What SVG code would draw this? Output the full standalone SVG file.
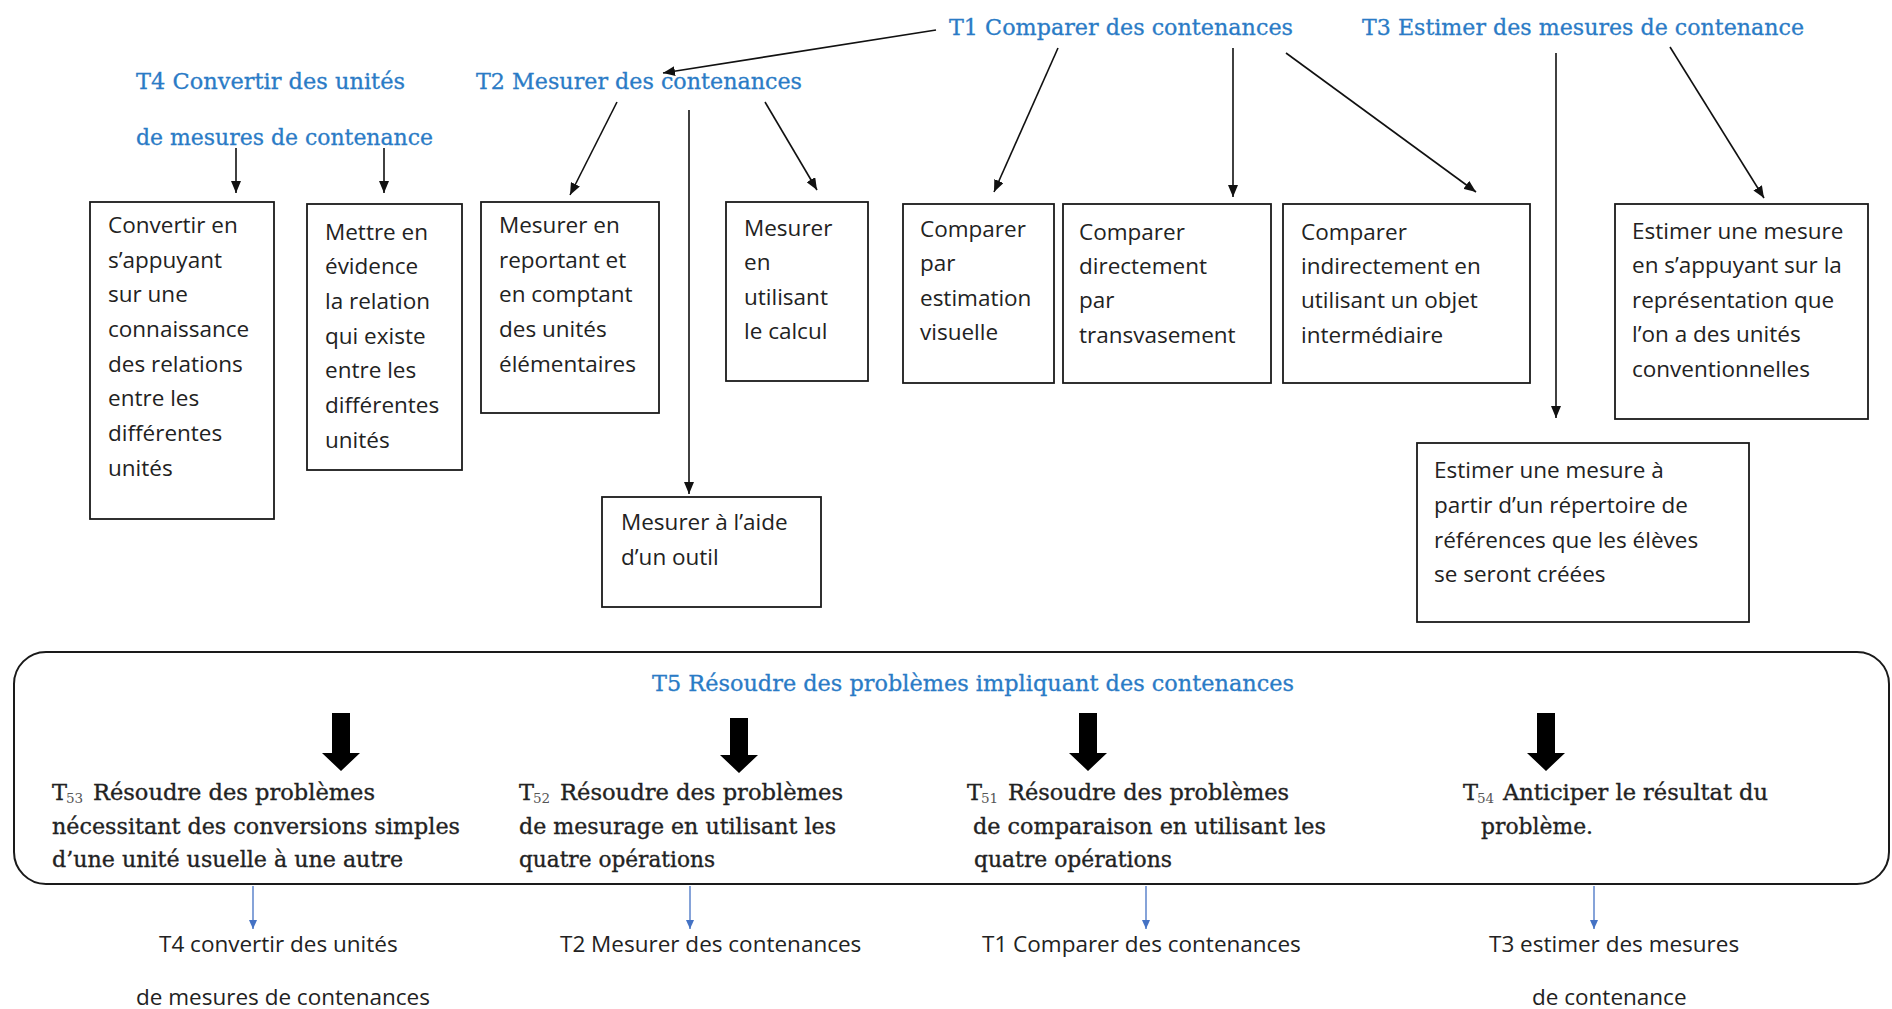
<svg xmlns="http://www.w3.org/2000/svg" width="1892" height="1009" viewBox="0 0 1892 1009">
<style>
.bg{fill:#ffffff}
.box{fill:#ffffff;stroke:#1a1a1a;stroke-width:1.8}
.frame{fill:none;stroke:#1a1a1a;stroke-width:2}
.t{font-family:"Open Sans","Noto Sans","Liberation Sans",sans-serif;font-size:22.5px;fill:#222222}
.ti{font-family:"DejaVu Serif","Liberation Serif",serif;font-size:22.5px;fill:#2a7bc6;stroke:#2a7bc6;stroke-width:0.3}
.s{font-family:"DejaVu Serif","Liberation Serif",serif;font-size:22.5px;fill:#222222;stroke:#222222;stroke-width:0.35}
.sub{font-family:"DejaVu Serif","Liberation Serif",serif;font-size:13.5px;fill:#555555}
.c{stroke:#111111;stroke-width:1.6;fill:none;marker-end:url(#ah)}
.cb{stroke:#4472c4;stroke-width:1.3;fill:none;marker-end:url(#ahb)}
.big{fill:#000000}
</style>
<defs>
<marker id="ah" markerWidth="12" markerHeight="10" refX="12" refY="5" orient="auto" markerUnits="userSpaceOnUse"><path d="M0,0 L12,5 L0,10 z" fill="#111111"/></marker>
<marker id="ahb" markerWidth="9" markerHeight="8" refX="9" refY="4" orient="auto" markerUnits="userSpaceOnUse"><path d="M0,0 L9,4 L0,8 z" fill="#4472c4"/></marker>
</defs>
<rect class="bg" x="0" y="0" width="1892" height="1009"/>

<g id="titles">
<text class="ti" x="949" y="35" textLength="344" lengthAdjust="spacingAndGlyphs">T1 Comparer des contenances</text>
<text class="ti" x="1362" y="35" textLength="442" lengthAdjust="spacingAndGlyphs">T3 Estimer des mesures de contenance</text>
<text class="ti" x="136" y="89" textLength="269" lengthAdjust="spacingAndGlyphs">T4 Convertir des unités</text>
<text class="ti" x="136" y="145" textLength="297" lengthAdjust="spacingAndGlyphs">de mesures de contenance</text>
<text class="ti" x="476" y="89" textLength="326" lengthAdjust="spacingAndGlyphs">T2 Mesurer des contenances</text>
</g>

<g id="connectors">
<line class="c" x1="936" y1="30" x2="663" y2="73"/>
<line class="c" x1="236" y1="148" x2="236" y2="193"/>
<line class="c" x1="384" y1="148" x2="384" y2="193"/>
<line class="c" x1="617" y1="102" x2="570" y2="195"/>
<line class="c" x1="689" y1="110" x2="689" y2="494"/>
<line class="c" x1="765" y1="102" x2="817" y2="190"/>
<line class="c" x1="1058" y1="48" x2="994" y2="192"/>
<line class="c" x1="1233" y1="48" x2="1233" y2="197"/>
<line class="c" x1="1286" y1="53" x2="1476" y2="192"/>
<line class="c" x1="1556" y1="53" x2="1556" y2="418"/>
<line class="c" x1="1670" y1="47" x2="1764" y2="198"/>
<line class="cb" x1="253" y1="886" x2="253" y2="929"/>
<line class="cb" x1="690" y1="886" x2="690" y2="929"/>
<line class="cb" x1="1146" y1="886" x2="1146" y2="929"/>
<line class="cb" x1="1594" y1="886" x2="1594" y2="929"/>
</g>

<g id="boxA">
<rect class="box" x="90" y="202" width="184" height="317"/>
<text class="t" x="108" y="233">Convertir en</text>
<text class="t" x="108" y="268">s’appuyant</text>
<text class="t" x="108" y="302">sur une</text>
<text class="t" x="108" y="337">connaissance</text>
<text class="t" x="108" y="372">des relations</text>
<text class="t" x="108" y="406">entre les</text>
<text class="t" x="108" y="441">différentes</text>
<text class="t" x="108" y="476">unités</text>
</g>

<g id="boxB">
<rect class="box" x="307" y="204" width="155" height="266"/>
<text class="t" x="325" y="240">Mettre en</text>
<text class="t" x="325" y="274">évidence</text>
<text class="t" x="325" y="309">la relation</text>
<text class="t" x="325" y="344">qui existe</text>
<text class="t" x="325" y="378">entre les</text>
<text class="t" x="325" y="413">différentes</text>
<text class="t" x="325" y="448">unités</text>
</g>

<g id="boxC">
<rect class="box" x="481" y="202" width="178" height="211"/>
<text class="t" x="499" y="233">Mesurer en</text>
<text class="t" x="499" y="268">reportant et</text>
<text class="t" x="499" y="302">en comptant</text>
<text class="t" x="499" y="337">des unités</text>
<text class="t" x="499" y="372">élémentaires</text>
</g>

<g id="boxD">
<rect class="box" x="726" y="202" width="142" height="179"/>
<text class="t" x="744" y="236">Mesurer</text>
<text class="t" x="744" y="270">en</text>
<text class="t" x="744" y="305">utilisant</text>
<text class="t" x="744" y="339">le calcul</text>
</g>

<g id="boxE">
<rect class="box" x="602" y="497" width="219" height="110"/>
<text class="t" x="621" y="530">Mesurer à l’aide</text>
<text class="t" x="621" y="565">d’un outil</text>
</g>

<g id="boxF">
<rect class="box" x="903" y="204" width="151" height="179"/>
<text class="t" x="920" y="237">Comparer</text>
<text class="t" x="920" y="271">par</text>
<text class="t" x="920" y="306">estimation</text>
<text class="t" x="920" y="340">visuelle</text>
</g>

<g id="boxG">
<rect class="box" x="1063" y="204" width="208" height="179"/>
<text class="t" x="1079" y="240">Comparer</text>
<text class="t" x="1079" y="274">directement</text>
<text class="t" x="1079" y="308">par</text>
<text class="t" x="1079" y="343">transvasement</text>
</g>

<g id="boxH">
<rect class="box" x="1283" y="204" width="247" height="179"/>
<text class="t" x="1301" y="240">Comparer</text>
<text class="t" x="1301" y="274">indirectement en</text>
<text class="t" x="1301" y="308">utilisant un objet</text>
<text class="t" x="1301" y="343">intermédiaire</text>
</g>

<g id="boxI">
<rect class="box" x="1615" y="204" width="253" height="215"/>
<text class="t" x="1632" y="239">Estimer une mesure</text>
<text class="t" x="1632" y="273">en s’appuyant sur la</text>
<text class="t" x="1632" y="308">représentation que</text>
<text class="t" x="1632" y="342">l’on a des unités</text>
<text class="t" x="1632" y="377">conventionnelles</text>
</g>

<g id="boxJ">
<rect class="box" x="1417" y="443" width="332" height="179"/>
<text class="t" x="1434" y="478">Estimer une mesure à</text>
<text class="t" x="1434" y="513">partir d’un répertoire de</text>
<text class="t" x="1434" y="548">références que les élèves</text>
<text class="t" x="1434" y="582">se seront créées</text>
</g>

<g id="T5">
<rect class="frame" x="14" y="652" width="1875" height="232" rx="32" ry="32"/>
<text class="ti" x="652" y="691" textLength="642" lengthAdjust="spacingAndGlyphs">T5 Résoudre des problèmes impliquant des contenances</text>
<path class="big" d="M332,713 H350 V753 H360 L341,771 L322,753 H332 Z"/>
<path class="big" d="M730,718 H748 V755 H758 L739,773 L720,755 H730 Z"/>
<path class="big" d="M1079,713 H1097 V753 H1107 L1088,771 L1069,753 H1079 Z"/>
<path class="big" d="M1537,713 H1555 V753 H1565 L1546,771 L1527,753 H1537 Z"/>
</g>

<g id="T53">
<text class="s" x="52" y="800">T</text>
<text class="sub" x="66" y="803">53</text>
<text class="s" x="93" y="800" textLength="282" lengthAdjust="spacingAndGlyphs">Résoudre des problèmes</text>
<text class="s" x="52" y="833.5" textLength="408" lengthAdjust="spacingAndGlyphs">nécessitant des conversions simples</text>
<text class="s" x="52" y="867" textLength="351" lengthAdjust="spacingAndGlyphs">d’une unité usuelle à une autre</text>
</g>

<g id="T52">
<text class="s" x="519" y="800">T</text>
<text class="sub" x="533" y="803">52</text>
<text class="s" x="560" y="800" textLength="283" lengthAdjust="spacingAndGlyphs">Résoudre des problèmes</text>
<text class="s" x="519" y="833.5" textLength="317" lengthAdjust="spacingAndGlyphs">de mesurage en utilisant les</text>
<text class="s" x="519" y="867" textLength="196" lengthAdjust="spacingAndGlyphs">quatre opérations</text>
</g>

<g id="T51">
<text class="s" x="967" y="800">T</text>
<text class="sub" x="981" y="803">51</text>
<text class="s" x="1008" y="800" textLength="281" lengthAdjust="spacingAndGlyphs">Résoudre des problèmes</text>
<text class="s" x="973" y="833.5" textLength="353" lengthAdjust="spacingAndGlyphs">de comparaison en utilisant les</text>
<text class="s" x="974" y="867" textLength="198" lengthAdjust="spacingAndGlyphs">quatre opérations</text>
</g>

<g id="T54">
<text class="s" x="1463" y="800">T</text>
<text class="sub" x="1477" y="803">54</text>
<text class="s" x="1503" y="800" textLength="265" lengthAdjust="spacingAndGlyphs">Anticiper le résultat du</text>
<text class="s" x="1481" y="833.5" textLength="112" lengthAdjust="spacingAndGlyphs">problème.</text>
</g>

<g id="labels">
<text class="t" x="159" y="952">T4 convertir des unités</text>
<text class="t" x="136" y="1005">de mesures de contenances</text>
<text class="t" x="560" y="952">T2 Mesurer des contenances</text>
<text class="t" x="982" y="952">T1 Comparer des contenances</text>
<text class="t" x="1489" y="952">T3 estimer des mesures</text>
<text class="t" x="1532" y="1005">de contenance</text>
</g>
</svg>
